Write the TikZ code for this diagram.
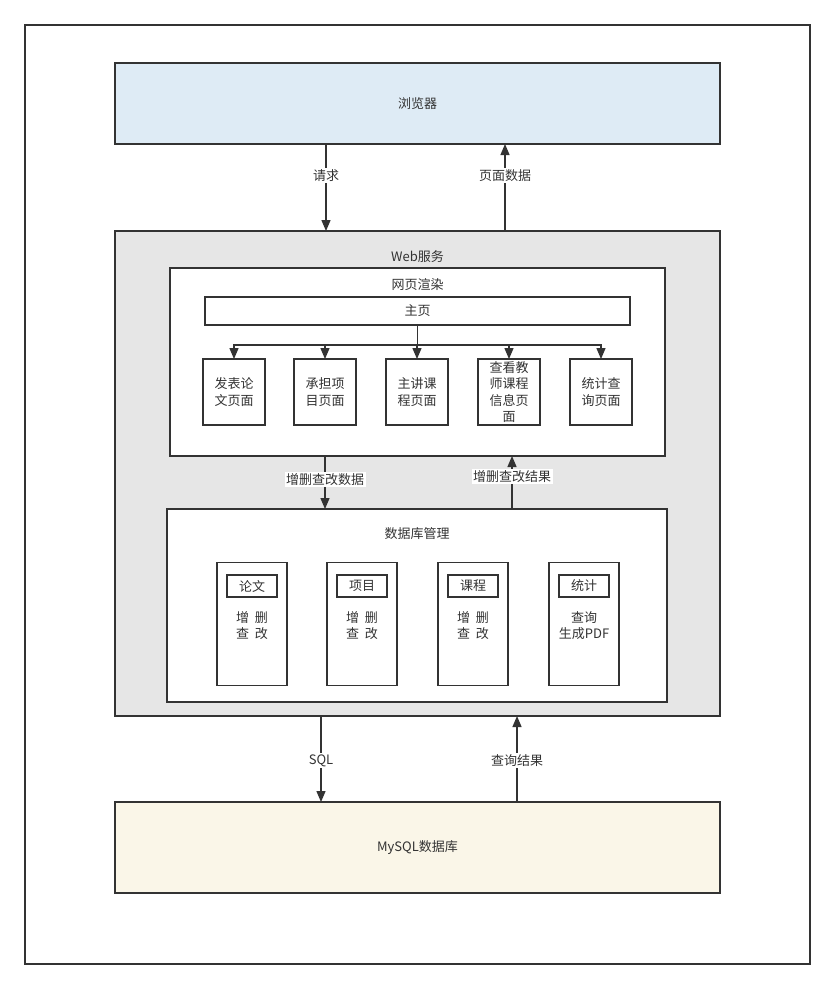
\documentclass[tikz,border=0pt]{standalone}
\usepackage{fontspec}
\setmainfont{Noto Sans CJK SC}
\usetikzlibrary{arrows.meta}
\definecolor{linec}{HTML}{333333}
\definecolor{txtc}{HTML}{333333}
\definecolor{browserfill}{HTML}{DEEBF5}
\definecolor{webfill}{HTML}{E6E6E6}
\definecolor{dbfill}{HTML}{FAF6E8}
\newcommand{\gapw}{\hspace{0.45em}}
\tikzset{
  box/.style={draw=linec, line width=1.3pt, inner sep=0pt, outer sep=0pt,
    text=txtc, font=\fontsize{13}{16.5}\selectfont, align=center},
  title/.style={inner sep=0pt, text=txtc, font=\fontsize{13}{15}\selectfont},
  arr/.style={draw=linec, line width=1.3pt,
    -{Triangle[length=11pt,width=9pt]}},
  lbl/.style={fill=white, inner sep=1.5pt, text=txtc,
    font=\fontsize{13}{15}\selectfont},
}
\begin{document}
\begin{tikzpicture}[x=1pt,y=-1pt]
  \useasboundingbox (0,0) rectangle (835,989);
  % page frame
  \draw[draw=linec, line width=1.2pt] (25,25) rectangle (810,964);

  % top and bottom tiers
  \node[box, fill=browserfill, minimum width=605, minimum height=81] (browser) at (417.5,103.5) {浏览器};
  \node[box, fill=webfill, minimum width=605, minimum height=485] (web) at (417.5,473.5) {};
  \node[title] (webtitle) at (417.5,257) {Web服务};
  \node[box, fill=dbfill, minimum width=605, minimum height=91] (mysql) at (417.5,847.5) {MySQL数据库};

  % page rendering block
  \node[box, fill=white, minimum width=495, minimum height=188] (render) at (417.5,362) {};
  \node[title] (rendertitle) at (417.5,285) {网页渲染};
  \node[box, fill=white, minimum width=425, minimum height=28] (home) at (417.5,311) {主页};

  \foreach \n/\x/\t in {p1/234/{发表论\\文页面}, p2/325/{承担项\\目页面}, p3/417/{主讲课\\程页面},
                       p4/509/{查看教\\师课程\\信息页\\面}, p5/601/{统计查\\询页面}}
    \node[box, fill=white, minimum width=62, minimum height=66] (\n) at (\x,392) {\t};

  \foreach \n in {p1,p2,p3,p4,p5}
    \draw[arr] (home.south) -- ++(0,20) -| (\n.north);

  % database management block
  \node[box, fill=white, minimum width=500, minimum height=193] (dbm) at (417,605.5) {};
  \node[title] (dbmtitle) at (417,534) {数据库管理};

  \foreach \n/\x/\h/\t in {m1/252/论文/{增\gapw 删\\查\gapw 改}, m2/362/项目/{增\gapw 删\\查\gapw 改},
                          m3/473/课程/{增\gapw 删\\查\gapw 改}, m4/584/统计/{查询\\生成PDF}} {
    \node[box, fill=white, minimum width=70, minimum height=123] (\n) at (\x,624) {};
    \node[box, fill=white, minimum width=50, minimum height=22] (\n h) at (\x,586) {\h};
    \node[title, align=center, font=\fontsize{13}{16.5}\selectfont] (\n t) at (\x,625.5) {\t};
  }

  % connectors between tiers
  \coordinate (reqx) at (326,0);
  \coordinate (pagex) at (505,0);
  \coordinate (crudx) at (325,0);
  \coordinate (resx) at (512,0);
  \coordinate (sqlx) at (321,0);
  \coordinate (qrx) at (517,0);

  \draw[arr] (browser.south -| reqx) -- (web.north -| reqx) node[lbl, pos=0.36] {请求};
  \draw[arr] (web.north -| pagex) -- (browser.south -| pagex) node[lbl, pos=0.64] {页面数据};
  \draw[arr] (render.south -| crudx) -- (dbm.north -| crudx) node[lbl, pos=0.45] {增删查改数据};
  \draw[arr] (dbm.north -| resx) -- (render.south -| resx) node[lbl, pos=0.62] {增删查改结果};
  \draw[arr] (web.south -| sqlx) -- (mysql.north -| sqlx) node[lbl, pos=0.52] {SQL};
  \draw[arr] (mysql.north -| qrx) -- (web.south -| qrx) node[lbl, pos=0.48] {查询结果};
\end{tikzpicture}
\end{document}
